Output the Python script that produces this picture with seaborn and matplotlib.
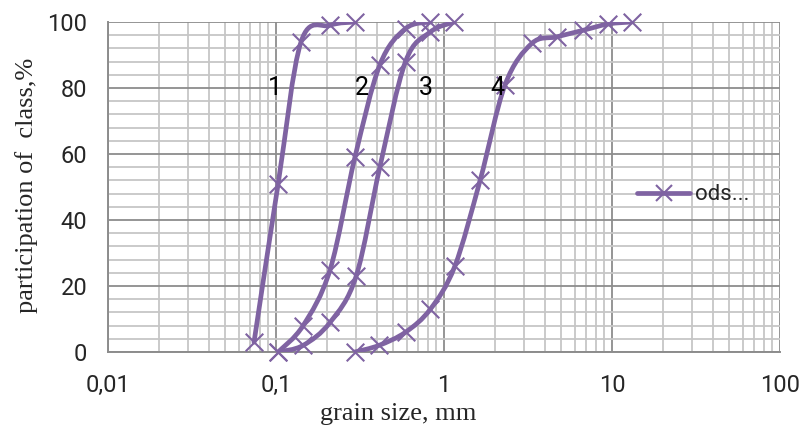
import numpy as np
import pandas as pd
import matplotlib
matplotlib.use("Agg")
import matplotlib.pyplot as plt
import seaborn as sns
from matplotlib.path import Path
from matplotlib.patches import PathPatch
from matplotlib.lines import Line2D
from matplotlib.ticker import LogLocator, MultipleLocator, FixedLocator, FixedFormatter, NullFormatter

# ---- data ----
curve1_x = [0.074, 0.103, 0.141, 0.21, 0.295]
curve1_y = [3, 51, 94, 99, 100]
curve2_x = [0.103, 0.145, 0.21, 0.295, 0.415, 0.59, 0.83]
curve2_y = [0, 8, 25, 59, 87, 98, 100]
curve3_x = [0.103, 0.145, 0.21, 0.30, 0.415, 0.59, 0.83, 1.15]
curve3_y = [0, 2, 9, 23, 56, 88, 97, 100]
curve4_x = [0.295, 0.41, 0.59, 0.83, 1.16, 1.64, 2.31, 3.33, 4.69, 6.75, 9.5, 13.1]
curve4_y = [0, 2, 6, 13, 26, 52, 81, 93.5, 95.5, 97.5, 99.4, 100]
curve_labels = ["1", "2", "3", "4"]
label_x = [0.0986, 0.325, 0.78, 2.07]
label_y = [80, 80, 80, 80]
xtick_values = [0.01, 0.1, 1, 10, 100]
xtick_labels = ["0,01", "0,1", "1", "10", "100"]
legend_label = "ods..."

curves = [(curve1_x, curve1_y), (curve2_x, curve2_y), (curve3_x, curve3_y), (curve4_x, curve4_y)]

sns.set_style("white")
plt.rcParams["font.family"] = ["Liberation Sans Narrow", "Roboto", "DejaVu Sans"]

COLOR = "#7F63A2"
W, H = 801, 433
fig = plt.figure(figsize=(W / 100, H / 100), dpi=100)
ax = fig.add_axes([108 / W, 1 - 352 / H, 672 / W, 330 / H])

ax.set_xscale("log")
ax.set_xlim(0.01, 100)
ax.set_ylim(0, 100)

# grid
ax.xaxis.set_major_locator(FixedLocator(xtick_values))
ax.xaxis.set_major_formatter(FixedFormatter(xtick_labels))
ax.xaxis.set_minor_locator(LogLocator(base=10, subs=np.arange(2, 10)))
ax.xaxis.set_minor_formatter(NullFormatter())
ax.yaxis.set_major_locator(MultipleLocator(20))
ax.yaxis.set_minor_locator(MultipleLocator(4))
ax.grid(which="minor", color="#c6c6c6", lw=1.3)
ax.grid(which="major", color="#8c8c8c", lw=1.3)
ax.set_axisbelow(True)

for s in ["top", "right"]:
    ax.spines[s].set_visible(False)
for s in ["left", "bottom"]:
    ax.spines[s].set_color("#8c8c8c")
    ax.spines[s].set_linewidth(1.4)

ax.tick_params(which="major", direction="out", length=6, width=1.2, color="#8c8c8c",
               labelsize=17, pad=9)
ax.tick_params(which="minor", length=0)
ax.tick_params(axis="x", pad=10)

# smooth (Excel-like) curves
SX, SY = 168.0, 3.3

def smooth_path(xs, ys):
    P = np.column_stack([np.log10(xs) * SX, np.asarray(ys, float) * SY])
    n = len(P)
    verts = [P[0]]
    codes = [Path.MOVETO]
    for i in range(n - 1):
        p0 = P[i - 1] if i > 0 else P[i]
        p1 = P[i]
        p2 = P[i + 1]
        p3 = P[i + 2] if i + 2 < n else P[i + 1]
        c1 = p1 + (p2 - p0) / 6.0
        c2 = p2 - (p3 - p1) / 6.0
        verts += [c1, c2, p2]
        codes += [Path.CURVE4] * 3
    V = np.array(verts)
    data = np.column_stack([10 ** (V[:, 0] / SX), V[:, 1] / SY])
    return Path(data, codes)

for xs, ys in curves:
    patch = PathPatch(smooth_path(xs, ys), fill=False, edgecolor=COLOR, lw=3.4,
                      capstyle="round", joinstyle="round", transform=ax.transData, zorder=3)
    ax.add_patch(patch)

frames = []
for i, (xs, ys) in enumerate(curves):
    frames.append(pd.DataFrame({"x": xs, "y": ys, "curve": curve_labels[i]}))
df = pd.concat(frames, ignore_index=True)
sns.scatterplot(data=df, x="x", y="y", marker="x", s=160, color=COLOR, linewidth=1.5,
                ax=ax, zorder=4, legend=False, clip_on=False)

for t, lx, ly in zip(curve_labels, label_x, label_y):
    ax.text(lx, ly, t, ha="center", va="center", fontsize=18, color="black", zorder=5)

ax.set_xlim(0.01, 100)
ax.set_ylim(0, 100)

serif = ["Liberation Serif", "DejaVu Serif"]
ax.set_xlabel("grain size, mm", family=serif, fontsize=19, va="center")
ax.xaxis.set_label_coords((398 - 108) / 672, (352 - 414) / 330)
ax.set_ylabel("participation of  class,%", family=serif, fontsize=19, va="center")
ax.yaxis.set_label_coords((27 - 108) / 672, (352 - 185) / 330)

handle = Line2D([], [], color=COLOR, lw=3.4, marker="x", markersize=12, markeredgewidth=1.5,
                solid_capstyle="round")
ax.legend(handles=[handle], labels=[legend_label], frameon=False, loc="center left",
          bbox_to_anchor=((637 - 108) / 672, (352 - 195) / 330), borderaxespad=0, borderpad=0,
          handlelength=2.4, handletextpad=0.2, fontsize=16)

fig.savefig("out.png", dpi=100)
